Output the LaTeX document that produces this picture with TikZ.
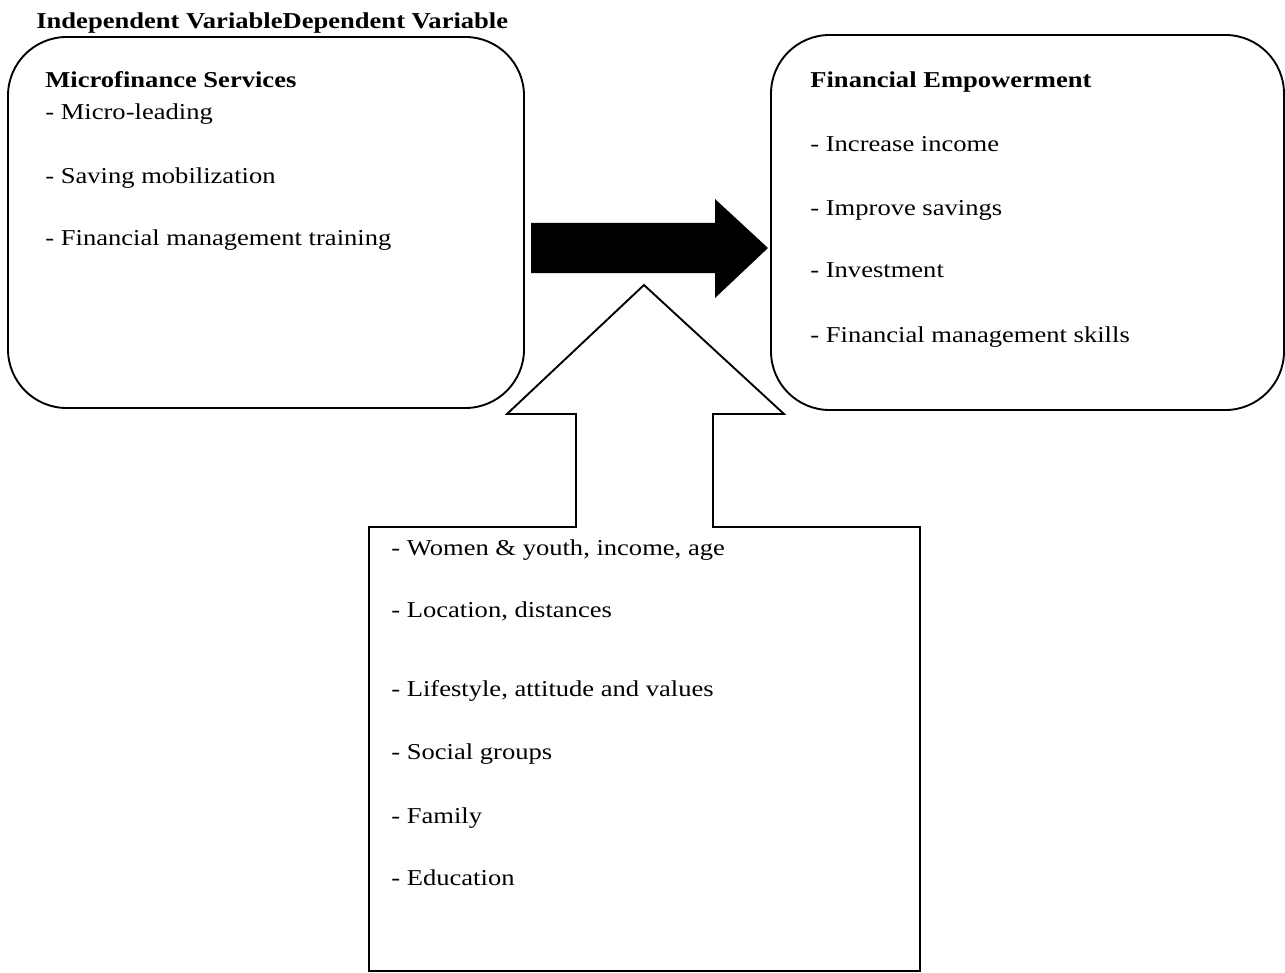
\documentclass[tikz,border=0pt]{standalone}
\usepackage{fontspec}
\setmainfont{Liberation Serif}
\usetikzlibrary{positioning}

\newcommand{\widetext}[1]{\scalebox{1.17}[1]{#1}}

\tikzset{
    item/.style={anchor=base west, inner sep=0pt, font=\fontsize{12}{14}\selectfont},
    head/.style={item, font=\fontsize{12}{14}\selectfont\bfseries},
    frame/.style={draw, line width=1pt, line join=miter},
    roundframe/.style={frame, rounded corners=31pt},
}

\begin{document}
\begin{tikzpicture}[x=0.5286pt, y=-0.5286pt]
            \useasboundingbox (0,0) rectangle (1285,973);
            \node[head] (title) at (36,29) {\widetext{Independent VariableDependent Variable}};

            \draw[roundframe] (8,37) rectangle (524,408);
            \node[head] (services) at (45,88) {\widetext{Microfinance Services}};
            \node[item] (lending) at (45,120) {\widetext{- Micro-leading}};
            \node[item] (saving) at (45,183) {\widetext{- Saving mobilization}};
            \node[item] (training) at (45,245) {\widetext{- Financial management training}};

            \draw[roundframe] (771,35) rectangle (1284,410);
            \node[head] (empower) at (810,88) {\widetext{Financial Empowerment}};
            \node[item] (income) at (810,152) {\widetext{- Increase income}};
            \node[item] (savings) at (810,215) {\widetext{- Improve savings}};
            \node[item] (invest) at (810,278) {\widetext{- Investment}};
            \node[item] (skills) at (810,342) {\widetext{- Financial management skills}};

            \coordinate (tail top) at (531,223);
            \coordinate (tail bot) at (531,273);
            \coordinate (tip) at (768,248);
            \fill (tail top) -- (715,223) -- (715,199) -- (tip) -- (715,298) -- (715,273) -- (tail bot) -- cycle;

            \coordinate (up tip) at (644,285);
            \draw[frame] (576,527) -- (369,527) -- (369,971) -- (920,971) -- (920,527) -- (713,527)
                -- (713,414) -- (784,414) -- (up tip) -- (507,414) -- (576,414) -- cycle;
            \node[item] (women) at (391,555) {\widetext{- Women \& youth, income, age}};
            \node[item] (location) at (391,617) {\widetext{- Location, distances}};
            \node[item] (lifestyle) at (391,696) {\widetext{- Lifestyle, attitude and values}};
            \node[item] (social) at (391,759) {\widetext{- Social groups}};
            \node[item] (family) at (391,823) {\widetext{- Family}};
            \node[item] (education) at (391,885) {\widetext{- Education}};
        \end{tikzpicture}
\end{document}
